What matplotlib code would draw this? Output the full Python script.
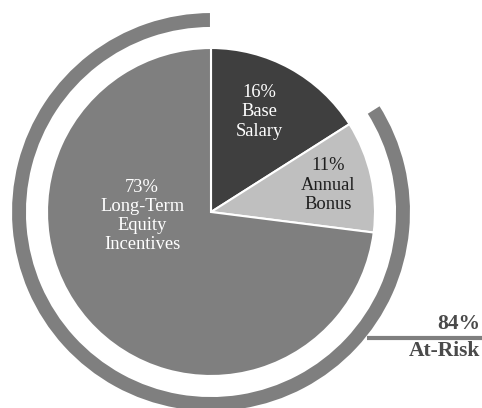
import matplotlib
matplotlib.use("Agg")
import matplotlib.pyplot as plt

# Data
categories = ["Base\nSalary", "Annual\nBonus", "Long-Term\nEquity\nIncentives"]
values = [16, 11, 73]
at_risk_label = "At-Risk"
at_risk_value = 84
colors = ["#3f3f3f", "#bfbfbf", "#7f7f7f"]
text_colors = ["white", "#1e1e1e", "white"]

W, H = 482, 408
fig = plt.figure(figsize=(W / 100, H / 100), dpi=100)
ax = fig.add_axes([0, 0, 1, 1])

cx, cy = 211, H - 212
r = 164

ax.pie(values, colors=colors, startangle=90, counterclock=False,
       center=(cx, cy), radius=r, frame=True,
       wedgeprops=dict(edgecolor="white", linewidth=1.5))

# outer at-risk ring
ring_vals = [100 - at_risk_value, at_risk_value]
ax.pie(ring_vals, colors=["none", "#7f7f7f"], startangle=90, counterclock=False,
       center=(cx, cy), radius=200, frame=True,
       wedgeprops=dict(width=16, edgecolor="white", linewidth=1.5))
ax.set_xlim(0, W)
ax.set_ylim(0, H)
ax.set_aspect("equal")
ax.axis("off")

font = ["Liberation Serif", "DejaVu Serif"]
label_pos = [(259, 112), (328, 185), (142, 216)]
for cat, v, (px, py), tc in zip(categories, values, label_pos, text_colors):
    ax.text(px, H - py, f"{v}%\n{cat}", ha="center", va="center", fontsize=13.3,
            color=tc, family=font, linespacing=1.17)

# at-risk callout
ax.plot([367, W], [H - 338, H - 338], color="#7f7f7f", lw=3, solid_capstyle="butt")
ax.text(480, H - 334, f"{at_risk_value}%", ha="right", va="bottom", fontsize=15.5,
        fontweight="bold", color="#4a4a4a", family=font)
ax.text(480, H - 341, at_risk_label, ha="right", va="top", fontsize=15.5,
        fontweight="bold", color="#4a4a4a", family=font)

fig.savefig("out.png", dpi=100)
